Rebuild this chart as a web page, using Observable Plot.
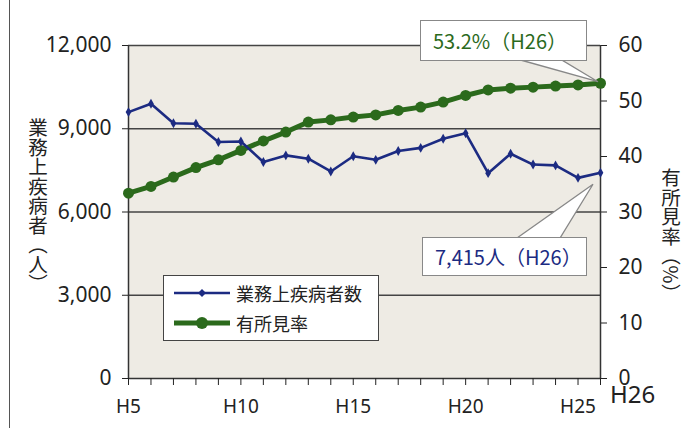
<!DOCTYPE html>
<html><head><meta charset="utf-8">
<script src="https://cdn.jsdelivr.net/npm/d3@7"></script>
<script src="https://cdn.jsdelivr.net/npm/@observablehq/plot@0.6"></script>
<style>
body{margin:0;background:#fff;}
#wrap{position:relative;width:683px;height:428px;overflow:hidden;font-family:"Noto Sans CJK JP","Noto Sans",sans-serif;}
#wrap > svg{position:absolute;left:0;top:0;}
.edge{position:absolute;left:9px;top:0;width:0;height:428px;border-left:1.5px solid #555;}
.vtitle{position:absolute;writing-mode:vertical-rl;font-size:19.5px;line-height:1;color:#222;letter-spacing:0px;}
.callout{position:absolute;background:#fff;border:1.5px solid #888;font-size:20px;display:flex;align-items:center;padding-left:12px;box-sizing:border-box;}
.legend{position:absolute;background:#fff;border:1.5px solid #444;box-sizing:border-box;font-size:18px;color:#222;}
.legend .row{display:flex;align-items:center;height:30px;padding-left:10px;}
.legend svg{position:static !important;margin-right:6px;}
</style></head><body><div id="wrap"><div class="edge"></div></div>
<script>
const years = [5,6,7,8,9,10,11,12,13,14,15,16,17,18,19,20,21,22,23,24,25,26];
const labelYears = [5,10,15,20,25];
const cases = [9600,9900,9200,9180,8520,8540,7800,8040,7920,7460,8010,7880,8200,8310,8640,8840,7400,8100,7710,7680,7230,7415];
const rate = [33.4,34.6,36.3,38.0,39.4,41.1,42.8,44.4,46.2,46.6,47.1,47.5,48.3,48.9,49.8,51.0,52.0,52.3,52.5,52.7,52.9,53.2];
const leftTicks = [0,3000,6000,9000,12000];
const rightTicks = [0,10,20,30,40,50,60];
const seriesNames = ["業務上疾病者数","有所見率"];
const blue = "#1c2b82", green = "#2b6a1c";
const ratio = 12000/60;

const casesData = years.map((y,i)=>({x:y, v:cases[i]}));
const rateData = years.map((y,i)=>({x:y, v:rate[i]*ratio}));

const font = "'Noto Sans','Noto Sans CJK JP',sans-serif";
const chart = Plot.plot({
  width:683, height:428,
  marginLeft:128, marginRight:83, marginTop:45, marginBottom:50,
  style:{fontFamily:font, fontSize:"21px", color:"#222", background:"transparent"},
  x:{domain:[5,26]},
  y:{domain:[0,12000]},
  marks:[
    Plot.frame({fill:"#eeebe4", stroke:"none"}),
    Plot.ruleY(leftTicks.filter(d=>d>0), {stroke:"#444", strokeWidth:1.6}),
    Plot.ruleY([0], {stroke:"#333", strokeWidth:1.5}),
    Plot.ruleX([5], {stroke:"#333", strokeWidth:1.5}),
    Plot.ruleX([26], {stroke:"#333", strokeWidth:1.5}),
    Plot.axisY(leftTicks, {anchor:"left", tickSize:6, tickPadding:11, label:null, tickFormat:d3.format(",")}),
    Plot.axisY(rightTicks.map(d=>d*ratio), {anchor:"right", tickSize:6, tickPadding:12, label:null, tickFormat:d=>d/ratio}),
    Plot.axisX(years, {anchor:"bottom", tickSize:7, tickFormat:()=>"", label:null}),
    Plot.axisX(labelYears, {anchor:"bottom", tickSize:0, tickPadding:21, fontSize:19, label:null, tickFormat:d=>"H"+d}),
    Plot.text([26], {x:d=>d, y:0, text:d=>"H"+d, dx:32, dy:17, fontSize:24, fill:"#222"}),
    Plot.line(rateData, {x:"x", y:"v", stroke:green, strokeWidth:5}),
    Plot.dot(rateData, {x:"x", y:"v", fill:green, r:5.5}),
    Plot.line(casesData, {x:"x", y:"v", stroke:blue, strokeWidth:2.6}),
    Plot.dot(casesData, {x:"x", y:"v", symbol:"diamond", fill:blue, r:3})
  ]
});
const wrap = document.getElementById("wrap");
wrap.appendChild(chart);

const svg = d3.select(chart);
svg.selectAll('g[aria-label="x-axis tick label"]').attr("font-size", 19);

const sx = chart.scale("x"), sy = chart.scale("y");
const lastI = years.length-1;
const gx = sx.apply(years[lastI]), gy = sy.apply(rate[lastI]*ratio);
const bx = sx.apply(years[lastI]), by = sy.apply(cases[lastI]);

function addCallout(text, color, left, top, w, h, tipX, tipY, baseY, b1, b2){
  svg.append("path")
    .attr("d", `M${b1},${baseY}L${tipX},${tipY}L${b2},${baseY}Z`)
    .attr("fill","#fff").attr("stroke","#888").attr("stroke-width",1.3);
  const d = document.createElement("div");
  d.className="callout";
  Object.assign(d.style,{left:left+"px",top:top+"px",width:w+"px",height:h+"px",color:color});
  d.textContent = text;
  wrap.appendChild(d);
}
addCallout(rate[lastI].toFixed(1)+"%（H"+years[lastI]+"）", green, 420, 20, 167, 41, gx-2, gy-1, 59, 517, 560);
addCallout(d3.format(",")(cases[lastI])+"人（H"+years[lastI]+"）", blue, 422, 237, 165, 39, bx-7, by+12, 238, 517, 560);

const lg = document.createElement("div");
lg.className="legend";
Object.assign(lg.style,{left:"163px",top:"275px",width:"216px",height:"66px",paddingTop:"2px"});
lg.innerHTML = `
<div class="row"><svg width="56" height="14"><line x1="0" y1="7" x2="56" y2="7" stroke="${blue}" stroke-width="2.6"/><path d="M28,3L32,7L28,11L24,7Z" fill="${blue}"/></svg>${seriesNames[0]}</div>
<div class="row"><svg width="56" height="16"><line x1="0" y1="8" x2="56" y2="8" stroke="${green}" stroke-width="5"/><circle cx="28" cy="8" r="6" fill="${green}"/></svg>${seriesNames[1]}</div>`;
wrap.appendChild(lg);

const t1 = document.createElement("div");
t1.className="vtitle"; t1.textContent="業務上疾病者（人）";
Object.assign(t1.style,{left:"28px",top:"118px"});
wrap.appendChild(t1);
const t2 = document.createElement("div");
t2.className="vtitle"; t2.textContent="有所見率（%）";
Object.assign(t2.style,{left:"661px",top:"168px"});
wrap.appendChild(t2);
</script></body></html>
